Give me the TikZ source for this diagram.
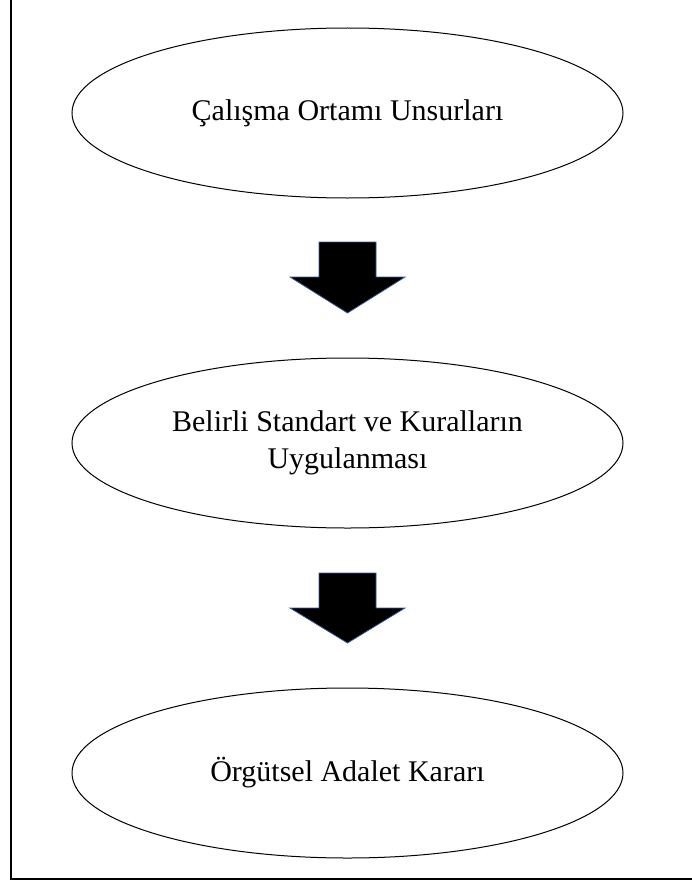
\documentclass[tikz,border=0pt]{standalone}
\usepackage{fontspec}
\setmainfont{Liberation Serif}
\usetikzlibrary{shapes.geometric}
\definecolor{arrowblue}{RGB}{58,90,150}
\begin{document}
\begin{tikzpicture}[x=1pt,y=-1pt,
  oval/.style={draw=black, line width=1pt, ellipse, minimum width=551pt, minimum height=170pt, inner sep=0pt, font=\fontsize{30}{37}\selectfont, align=center},
  bigarrow/.style={fill=black, draw=arrowblue, line width=0.8pt, line join=miter}]
\useasboundingbox (0,0) rectangle (692,883);
\draw[line width=1.3pt] (11,-2) -- (11,879) -- (694,879);
\node[oval] (e1) at (347.5,113) {Çalışma Ortamı Unsurları};
\node[oval] (e2) at (347.5,443) {Belirli Standart ve Kuralların\\Uygulanması};
\node[oval] (e3) at (347.5,773) {Örgütsel Adalet Kararı};
\draw[bigarrow] (319,242) -- (376,242) -- (376,277) -- (405,277) -- (347.5,313) -- (290,277) -- (319,277) -- cycle;
\draw[bigarrow] (319,573) -- (376,573) -- (376,608) -- (405,608) -- (347.5,643) -- (290,608) -- (319,608) -- cycle;
\end{tikzpicture}
\end{document}
